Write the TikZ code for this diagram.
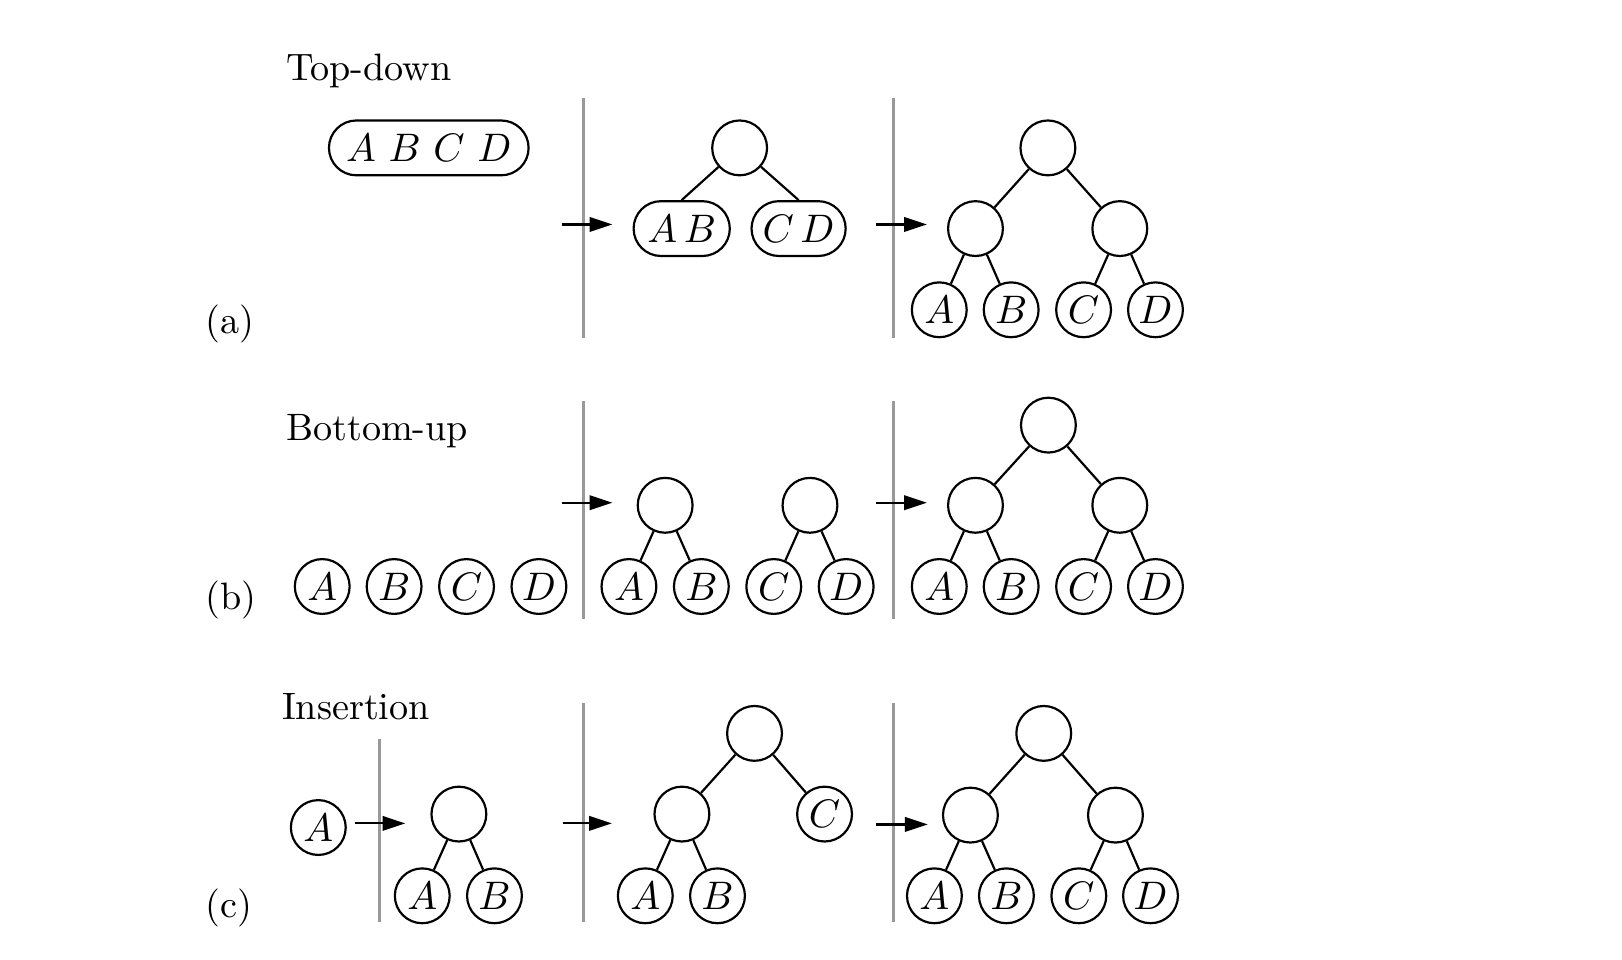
\documentclass[tikz,border=0pt]{standalone}
\usetikzlibrary{arrows.meta}
\begin{document}
\begin{tikzpicture}[font=\fontsize{10.5}{12}\selectfont,
    knot/.style={circle, draw, line width=0.6pt, minimum size=0.53cm, inner sep=0pt},
    pill/.style={rectangle, draw, line width=0.6pt, rounded corners=0.265cm, minimum height=0.53cm, inner sep=0pt},
    sep/.style={draw=black!40, line width=0.8pt},
    arr/.style={-{Triangle[length=2.2mm,width=1.4mm]}, line width=0.6pt},
    lbl/.style={anchor=base west, inner sep=0pt}]
    \useasboundingbox (0,0) rectangle (15.68,9.28);

    % Подписи
    \node[lbl] (tdown) at (2.76,8.50) {Top-down};
    \node[lbl] (bup) at (2.76,5.02) {Bottom-up};
    \node[lbl] (ins) at (2.72,2.32) {Insertion};
    \node[lbl] (pa) at (1.98,6.06) {(a)};
    \node[lbl] (pb) at (1.98,3.39) {(b)};
    \node[lbl] (pc) at (1.98,0.415) {(c)};

    % Разделители
    \draw[sep] (5.64,8.33) -- (5.64,6.01);
    \draw[sep] (8.64,8.33) -- (8.64,6.01);
    \draw[sep] (5.64,5.40) -- (5.64,3.30);
    \draw[sep] (8.64,5.40) -- (8.64,3.30);
    \draw[sep] (3.672,2.14) -- (3.672,0.37);
    \draw[sep] (5.643,2.48) -- (5.643,0.37);
    \draw[sep] (8.64,2.48) -- (8.64,0.37);

    % Стрелки
    \coordinate (s1) at (5.43,7.11);  \coordinate (e1) at (5.92,7.11);
    \coordinate (s2) at (8.47,7.11);  \coordinate (e2) at (8.96,7.11);
    \coordinate (s3) at (5.43,4.42);  \coordinate (e3) at (5.92,4.42);
    \coordinate (s4) at (8.47,4.42);  \coordinate (e4) at (8.96,4.42);
    \coordinate (s5) at (3.435,1.32); \coordinate (e5) at (3.918,1.32);
    \coordinate (s6) at (5.44,1.32);  \coordinate (e6) at (5.915,1.32);
    \coordinate (s7) at (8.472,1.31); \coordinate (e7) at (8.968,1.31);
    \foreach \i in {1,...,7}
        \draw[arr] (s\i) -- (e\i);

    % (a) Сверху вниз
    \node[pill, minimum width=1.93cm] (a1) at (4.145,7.85) {$A\ B\ C\ D$};

    \node[knot] (a2r) at (7.15,7.85) {};
    \node[pill, minimum width=0.93cm] (a2l) at (6.59,7.07) {$A\,B$};
    \node[pill, minimum width=0.91cm] (a2m) at (7.72,7.07) {$C\,D$};
    \draw[line width=0.6pt] (a2r) -- (a2l.north) (a2r) -- (a2m.north);

    \node[knot] (a3r) at (10.13,7.85) {};
    \node[knot] (a3u) at (9.43,7.07) {};
    \node[knot] (a3v) at (10.825,7.07) {};
    \node[knot] (a3A) at (9.08,6.285) {$A$};
    \node[knot] (a3B) at (9.775,6.285) {$B$};
    \node[knot] (a3C) at (10.475,6.285) {$C$};
    \node[knot] (a3D) at (11.17,6.285) {$D$};
    \draw[line width=0.6pt] (a3r) -- (a3u) (a3r) -- (a3v)
        (a3u) -- (a3A) (a3u) -- (a3B) (a3v) -- (a3C) (a3v) -- (a3D);

    % (b) Снизу вверх
    \node[knot] (b1A) at (3.115,3.61) {$A$};
    \node[knot] (b1B) at (3.81,3.61) {$B$};
    \node[knot] (b1C) at (4.51,3.61) {$C$};
    \node[knot] (b1D) at (5.21,3.61) {$D$};

    \node[knot] (b2r) at (6.43,4.395) {};
    \node[knot] (b2s) at (7.83,4.395) {};
    \node[knot] (b2A) at (6.08,3.61) {$A$};
    \node[knot] (b2B) at (6.78,3.61) {$B$};
    \node[knot] (b2C) at (7.48,3.61) {$C$};
    \node[knot] (b2D) at (8.18,3.61) {$D$};
    \draw[line width=0.6pt] (b2r) -- (b2A) (b2r) -- (b2B) (b2s) -- (b2C) (b2s) -- (b2D);

    \node[knot] (b3r) at (10.135,5.17) {};
    \node[knot] (b3u) at (9.43,4.395) {};
    \node[knot] (b3v) at (10.825,4.395) {};
    \node[knot] (b3A) at (9.08,3.61) {$A$};
    \node[knot] (b3B) at (9.775,3.61) {$B$};
    \node[knot] (b3C) at (10.475,3.61) {$C$};
    \node[knot] (b3D) at (11.17,3.61) {$D$};
    \draw[line width=0.6pt] (b3r) -- (b3u) (b3r) -- (b3v)
        (b3u) -- (b3A) (b3u) -- (b3B) (b3v) -- (b3C) (b3v) -- (b3D);

    % (c) Вставка
    \node[knot] (c0A) at (3.077,1.28) {$A$};

    \node[knot] (c1r) at (4.436,1.41) {};
    \node[knot] (c1A) at (4.082,0.62) {$A$};
    \node[knot] (c1B) at (4.78,0.62) {$B$};
    \draw[line width=0.6pt] (c1r) -- (c1A) (c1r) -- (c1B);

    \node[knot] (c2r) at (7.294,2.19) {};
    \node[knot] (c2u) at (6.592,1.41) {};
    \node[knot] (c2C) at (7.971,1.41) {$C$};
    \node[knot] (c2A) at (6.238,0.62) {$A$};
    \node[knot] (c2B) at (6.936,0.62) {$B$};
    \draw[line width=0.6pt] (c2r) -- (c2u) (c2r) -- (c2C) (c2u) -- (c2A) (c2u) -- (c2B);

    \node[knot] (c3r) at (10.09,2.19) {};
    \node[knot] (c3u) at (9.381,1.40) {};
    \node[knot] (c3v) at (10.783,1.40) {};
    \node[knot] (c3A) at (9.033,0.62) {$A$};
    \node[knot] (c3B) at (9.729,0.62) {$B$};
    \node[knot] (c3C) at (10.429,0.62) {$C$};
    \node[knot] (c3D) at (11.122,0.62) {$D$};
    \draw[line width=0.6pt] (c3r) -- (c3u) (c3r) -- (c3v)
        (c3u) -- (c3A) (c3u) -- (c3B) (c3v) -- (c3C) (c3v) -- (c3D);

\end{tikzpicture}
\end{document}
